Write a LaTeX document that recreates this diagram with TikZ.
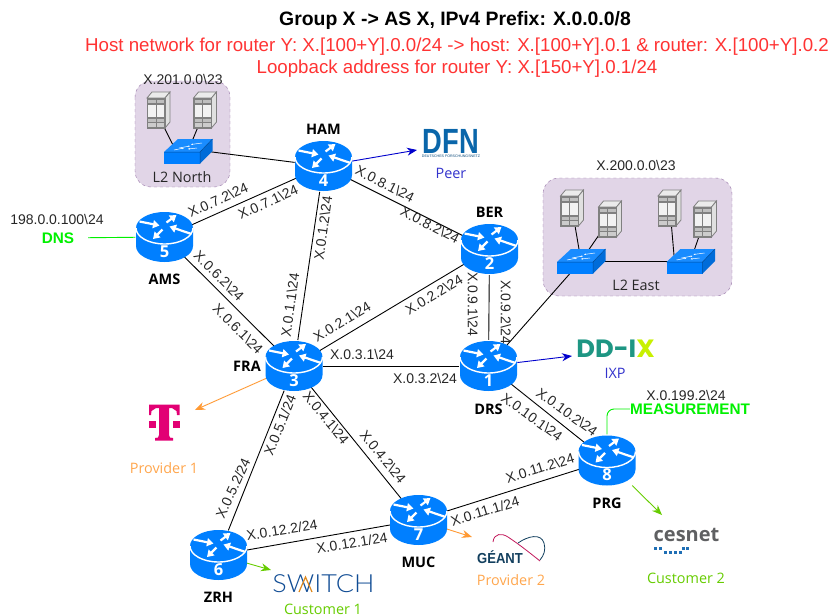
\documentclass[tikz,border=0pt]{standalone}
\usepackage{fontspec}
\setmainfont{Liberation Sans}
\newfontfamily\opensans{Open Sans}
\newfontfamily\lato{Lato Light}
\newfontfamily\poppins{Poppins}
\usetikzlibrary{shapes.geometric,arrows.meta,positioning}
\definecolor{routerblue}{HTML}{007FFF}
\definecolor{lanfill}{HTML}{E1D5E7}
\definecolor{landraw}{HTML}{9673A6}
\definecolor{peerblue}{HTML}{0000CC}
\definecolor{peertext}{HTML}{3333CC}
\definecolor{provorange}{HTML}{FF9933}
\definecolor{provtext}{HTML}{FFA64D}
\definecolor{custgreen}{HTML}{66CC00}
\definecolor{svcgreen}{HTML}{00F000}
\definecolor{titlered}{HTML}{FF3333}
\definecolor{srvgray}{HTML}{808080}
\definecolor{dfnblue}{HTML}{0A66AA}
\definecolor{telekom}{HTML}{E20074}
\definecolor{ddteal}{HTML}{1E9683}
\definecolor{ddlime}{HTML}{C8F000}
\definecolor{switchblue}{HTML}{104C94}
\definecolor{switchorange}{HTML}{E08A1E}
\definecolor{geantnavy}{HTML}{123F5E}
\definecolor{geantred}{HTML}{C2185B}
\definecolor{cesgray}{HTML}{5F6062}
\definecolor{cesblue}{HTML}{1F6FB5}
\tikzstyle{router} = [ellipse, minimum width=58pt, minimum height=52pt, inner sep=0pt]
\tikzstyle{l2switch} = [rectangle, minimum width=48pt, minimum height=24pt, inner sep=0pt]
\tikzstyle{host} = [rectangle, minimum width=23pt, minimum height=36pt, inner sep=0pt]
\tikzstyle{lan} = [draw=landraw, fill=lanfill, dashed, rounded corners=16pt]
\tikzstyle{line} = [draw, line width=0.9pt, color=black]
\tikzstyle{arrow} = [draw, line width=0.9pt, -{Stealth[length=10pt,width=8pt]}]
\tikzstyle{linklabel} = [font=\fontsize{14}{14}\selectfont, inner sep=0pt, color=black!85]
\tikzstyle{plainlabel} = [font=\fontsize{14}{14}\selectfont, inner sep=0pt, color=black!85]
\tikzstyle{place} = [font=\opensans\bfseries\fontsize{14.5}{14.5}\selectfont, inner sep=0pt, node distance=40pt]
\tikzstyle{caption} = [font=\opensans\fontsize{14.4}{14.4}\selectfont, inner sep=0pt]
\tikzstyle{service} = [font=\bfseries\fontsize{15.3}{15.3}\selectfont, color=svcgreen, inner sep=0pt]
\tikzstyle{redline} = [font=\fontsize{18.7}{18.7}\selectfont, color=titlered, inner sep=0pt]
\tikzset{
  routerpic/.pic={
    \fill[routerblue] (-28.5,-9) -- (-28.5,9) arc (180:360:28.5pt and 16pt) -- (28.5,-9) arc (0:180:28.5pt and 16pt) -- cycle;
    \draw[white, line width=1.4pt] (-28.5,-9) arc (180:360:28.5pt and 16pt);
    \foreach \tail/\tip in {{(-25,-15.5)/(-5,-11.5)},{(2,-14.5)/(12,-22)},{(27,-3)/(5,-10.5)},{(-2,-7.5)/(-11.5,2)}}
      \draw[white, line width=2.2pt, -{Triangle[length=6.5pt,width=8pt]}] \tail -- \tip;
    \node[font=\opensans\bfseries\fontsize{16.5}{16.5}\selectfont, white, inner sep=0pt] at (0,14.5) {#1};
  },
  switchpic/.pic={
    \fill[routerblue!90!white] (-24,1) -- (-10,-12) -- (24.5,-12) -- (12,1) -- cycle;
    \fill[routerblue] (-24,1) rectangle (12,12.5);
    \fill[routerblue!85!black] (12,1) -- (24.5,-12) -- (24.5,0) -- (12,12.5) -- cycle;
    \draw[routerblue!60!black, line width=0.5pt] (-24,1) -- (12,1) -- (12,12.5) (12,1) -- (24.5,-12);
    \draw[white, line width=0.5pt, -{Stealth[length=2pt]}] (-9,-3) -- (2,-5);
    \draw[white, line width=0.5pt, -{Stealth[length=2pt]}] (14,-8) -- (3,-6.5);
    \draw[white, line width=0.5pt, -{Stealth[length=2pt]}] (-14,-1) -- (-4,-3);
    \draw[white, line width=0.5pt, -{Stealth[length=2pt]}] (9,-3) -- (0,-2);
  },
  hostpic/.pic={
    \draw[srvgray, fill=black!8, line width=0.8pt] (-11.5,-12) -- (-6.5,-18) -- (11.5,-18) -- (6.5,-12) -- cycle;
    \draw[srvgray, fill=black!12, line width=0.8pt] (6.5,-12) -- (11.5,-18) -- (11.5,12) -- (6.5,18) -- cycle;
    \draw[srvgray, fill=srvgray, line width=0.8pt] (-11.5,-12) rectangle (6.5,18);
    \foreach \col in {-10.5,-2}
      \foreach \top/\bot/\tone in {-10.5/-7/25,-5.5/7/5,8.5/11.5/25,13/16.5/20}
        \fill[black!\tone] (\col,\top) rectangle ++(7.5,\bot-\top);
  }
}
\begin{document}
\begin{tikzpicture}[x=1pt,y=-1pt]
  \useasboundingbox (0,0) rectangle (831,616);

  % L2 segments
  \path[lan] (135,81) rectangle (230,187);
  \path[lan] (543,178) rectangle (732,296);

  % routers
  \node[router] (ham) at (323.5,166) {};
  \node[router] (ams) at (164.5,237) {};
  \node[router] (ber) at (489.5,249) {};
  \node[router] (drs) at (488.5,366) {};
  \node[router] (fra) at (294,366) {};
  \node[router] (prg) at (607,460.5) {};
  \node[router] (muc) at (418.5,520) {};
  \node[router] (zrh) at (218.5,555) {};

  % L2 switches and hosts
  \node[l2switch] (northsw) at (188,151) {};
  \node[l2switch] (eastswa) at (581,261) {};
  \node[l2switch] (eastswb) at (690.5,261) {};
  \node[host] (northa) at (158.5,110) {};
  \node[host] (northb) at (205,110) {};
  \node[host] (easta) at (572,208) {};
  \node[host] (eastb) at (610,219) {};
  \node[host] (eastc) at (669.5,208) {};
  \node[host] (eastd) at (705,219) {};

  % logos
  \node[inner sep=0pt, font=\bfseries\fontsize{35}{35}\selectfont, color=dfnblue] (dfn) at (451,141) {\scalebox{0.78}[1]{DFN}};
  \node[inner sep=0pt, font=\fontsize{3.6}{4}\selectfont, color=dfnblue!70!black, below of=dfn, node distance=15pt] (dfnsub) {DEUTSCHES FORSCHUNGSNETZ};
  \node[inner sep=0pt, font=\poppins\bfseries\fontsize{25}{25}\selectfont] (ddix) at (615.5,349) {\scalebox{1.03}[1]{\textcolor{ddteal}{DD-I}\textcolor{ddlime}{X}}};
  \node[minimum width=32pt, minimum height=36pt, inner sep=0pt] (tlogo) at (164,422) {};
  \fill[telekom] (149,404.5) -- (179.5,404.5) -- (179.5,415) -- (177,415) -- (176.5,411) -- (172,408) -- (169,408) -- (169,435) -- (170,437.5) -- (173,438) -- (173,440.5) -- (155,440.5) -- (155,438) -- (158,437.5) -- (159,435) -- (159,408) -- (156,408) -- (151.5,411) -- (151,415) -- (149,415) -- cycle;
  \fill[telekom] (149,421) rectangle (156,428);
  \fill[telekom] (172.5,421) rectangle (179.5,428);
  \node[inner sep=0pt, font=\lato\fontsize{25}{25}\selectfont, color=switchblue] (switchlogo) at (323.5,584) {\scalebox{1.08}[1]{SWITCH}};
  \draw[switchorange, line width=1.2pt] (299,592) -- (305.5,577) -- (312,592);
  \node[inner sep=0pt, font=\bfseries\fontsize{14.5}{15}\selectfont, color=geantnavy] (geant) at (500,557.5) {\scalebox{0.9}[1]{GÉANT}};
  \draw[geantred, line width=0.8pt] (493,542) .. controls (494,533) and (502,533) .. (508,537) .. controls (520,545) and (530,553) .. (540,561);
  \draw[geantnavy, line width=0.8pt] (518,543) .. controls (528,536) and (541,533) .. (544,543) .. controls (546,550) and (544,555) .. (540,560);
  \node[inner sep=0pt, font=\opensans\bfseries\fontsize{20}{20}\selectfont, color=cesgray] (cesnet) at (686.5,535) {cesnet};
  \foreach \dotx/\doty in {654/547,659/547,664/551,669/551,674/551,682/547,686/547,679/551}
    \fill[cesblue] (\dotx,\doty) rectangle ++(2.6,2.6);

  % free ends of the external links
  \coordinate (dfnin) at (417,150);
  \coordinate (ddixin) at (572,356);
  \coordinate (tin) at (195,410);
  \coordinate (geantin) at (472,537);
  \coordinate (switchin) at (271,570);
  \coordinate (cesnetin) at (662,515);

  % backbone links
  \path[line] (ams)--(ham);
  \path[line] (ams)--(fra);
  \path[line] (fra)--(ham);
  \path[line] (ham)--(ber);
  \path[line] (fra)--(ber);
  \path[line] (fra)--(drs);
  \path[line] (ber)--(drs);
  \path[line] (drs)--(prg);
  \path[line] (fra)--(muc);
  \path[line] (fra)--(zrh);
  \path[line] (zrh)--(muc);
  \path[line] (muc)--(prg);

  % L2 links
  \path[line] ([yshift=2pt]northsw.center)--(ham);
  \path[line] ([xshift=6pt]northa.south)--([xshift=-12pt]northsw.center);
  \path[line] (northb)--(northsw.center);
  \path[line] (eastswa.center)--(drs);
  \path[line] (eastswa.center)--(eastswb.center);
  \path[line] (easta)--(eastswa.center);
  \path[line] (eastb)--(eastswa.center);
  \path[line] ([xshift=2pt]eastc.south)--([xshift=-16pt]eastswb.center);
  \path[line] (eastd)--(eastswb.center);

  % external links
  \path[arrow, color=peerblue] (ham)--(dfnin);
  \path[arrow, color=peerblue] (drs)--(ddixin);
  \path[arrow, color=provorange] (fra)--(tin);
  \path[arrow, color=provorange] (muc)--(geantin);
  \path[arrow, color=custgreen] (zrh)--(switchin);
  \path[arrow, color=custgreen, shorten <=8pt] (prg)--(cesnetin);

  % icons go over the links
  \pic at (323.5,166) {routerpic=4};
  \pic at (164.5,237) {routerpic=5};
  \pic at (489.5,249) {routerpic=2};
  \pic at (488.5,366) {routerpic=1};
  \pic at (294,366) {routerpic=3};
  \pic at (607,460.5) {routerpic=8};
  \pic at (418.5,520) {routerpic=7};
  \pic at (218.5,555) {routerpic=6};
  \pic at (188,151) {switchpic};
  \pic at (581,261) {switchpic};
  \pic at (690.5,261) {switchpic};
  \pic at (158.5,110) {hostpic};
  \pic at (205,110) {hostpic};
  \pic at (572,208) {hostpic};
  \pic at (610,219) {hostpic};
  \pic at (669.5,208) {hostpic};
  \pic at (705,219) {hostpic};

  % services
  \node[service, minimum width=60pt] (dns) at (58,238) {DNS};
  \node[service] (measure) at (690,409) {MEASUREMENT};
  \draw[svcgreen, line width=0.9pt] (dns)--(ams);
  \draw[svcgreen, line width=0.9pt, rounded corners=7pt] (prg) |- (measure);
  \node[plainlabel] (dnsip) at (57,219) {198.0.0.100\textbackslash 24};
  \node[plainlabel] (measureip) at (686,395) {X.0.199.2\textbackslash 24};

  % titles
  \node[inner sep=0pt, font=\bfseries\fontsize{19.4}{19.4}\selectfont] (title) at (455,20) {Group X -> AS X, IPv4 Prefix: X.0.0.0/8};
  \node[redline] (hostline) at (457,47) {Host network for router Y: X.[100+Y].0.0/24 -> host: X.[100+Y].0.1 \& router: X.[100+Y].0.2};
  \node[redline] (loopline) at (457,69) {Loopback address for router Y: X.[150+Y].0.1/24};

  % segment names
  \node[plainlabel] (northnet) at (183,79) {X.201.0.0\textbackslash 23};
  \node[plainlabel] (eastnet) at (636,165) {X.200.0.0\textbackslash 23};
  \node[caption, color=black!85] (northname) at (182,177) {L2 North};
  \node[caption, color=black!85] (eastname) at (636,285) {L2 East};

  % router names
  \node[place, above of=ham, node distance=37pt] (hamname) {HAM};
  \node[place, above of=ber, node distance=37pt] (bername) {BER};
  \node[place, below of=ams, node distance=42pt] (amsname) {AMS};
  \node[place, left of=fra, node distance=47pt] (franame) {FRA};
  \node[place, below of=drs, node distance=43pt] (drsname) {DRS};
  \node[place, below of=prg, node distance=42.5pt] (prgname) {PRG};
  \node[place, below of=muc, node distance=42pt] (mucname) {MUC};
  \node[place, below of=zrh, node distance=42pt] (zrhname) {ZRH};

  % external names
  \node[caption, color=peertext] (peername) at (451,173) {Peer};
  \node[caption, color=peertext] (ixpname) at (615,373) {IXP};
  \node[caption, color=provtext] (provone) at (164,468) {Provider 1};
  \node[caption, color=provtext] (provtwo) at (511,580) {Provider 2};
  \node[caption, color=custgreen] (custone) at (323,609) {Customer 1};
  \node[caption, color=custgreen] (custtwo) at (686,578) {Customer 2};

  % addresses
  \node[linklabel, rotate=24] (aa) at (218,200) {X.0.7.2\textbackslash 24};
  \node[linklabel, rotate=24] (ab) at (268,202) {X.0.7.1\textbackslash 24};
  \node[linklabel, rotate=-45] (ac) at (219,276) {X.0.6.2\textbackslash 24};
  \node[linklabel, rotate=-45] (ad) at (238,329) {X.0.6.1\textbackslash 24};
  \node[linklabel, rotate=82] (ae) at (290,305) {X.0.1.1\textbackslash 24};
  \node[linklabel, rotate=82] (af) at (323,228) {X.0.1.2\textbackslash 24};
  \node[linklabel, rotate=31] (ag) at (342,322) {X.0.2.1\textbackslash 24};
  \node[linklabel, rotate=31] (ah) at (434,295) {X.0.2.2\textbackslash 24};
  \node[linklabel] (ai) at (362,354) {X.0.3.1\textbackslash 24};
  \node[linklabel] (aj) at (425,378) {X.0.3.2\textbackslash 24};
  \node[linklabel, rotate=-27] (ak) at (385,184) {X.0.8.1\textbackslash 24};
  \node[linklabel, rotate=-27] (al) at (430,225) {X.0.8.2\textbackslash 24};
  \node[linklabel, rotate=-90] (am) at (473,304) {X.0.9.1\textbackslash 24};
  \node[linklabel, rotate=-90] (an) at (506,312) {X.0.9.2\textbackslash 24};
  \node[linklabel, rotate=-36] (ao) at (567,412) {X.0.10.2\textbackslash 24};
  \node[linklabel, rotate=-36] (ap) at (532,417) {X.0.10.1\textbackslash 24};
  \node[linklabel, rotate=17] (aq) at (540,468) {X.0.11.2\textbackslash 24};
  \node[linklabel, rotate=17] (ar) at (485,511) {X.0.11.1/24};
  \node[linklabel, rotate=9] (as) at (282,530) {X.0.12.2/24};
  \node[linklabel, rotate=9] (at) at (352,543) {X.0.12.1/24};
  \node[linklabel, rotate=65] (au) at (233,488) {X.0.5.2/24};
  \node[linklabel, rotate=68] (av) at (280,425) {X.0.5.1/24};
  \node[linklabel, rotate=-51] (aw) at (326,418) {X.0.4.1\textbackslash 24};
  \node[linklabel, rotate=-51] (ax) at (383,457) {X.0.4.2\textbackslash 24};
\end{tikzpicture}
\end{document}
